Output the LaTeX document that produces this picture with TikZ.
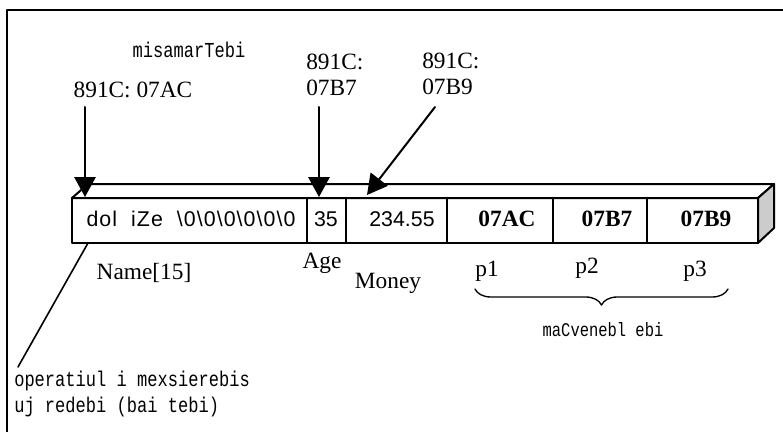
\documentclass[tikz,border=0pt]{standalone}
\usepackage{fontspec}
\setmainfont{Liberation Serif}
\newfontfamily\cellfont{Liberation Sans}
\newfontfamily\namefont[LetterSpace=5]{Liberation Sans}
\newfontfamily\geofont[FakeStretch=0.8]{Liberation Mono}
\usetikzlibrary{arrows.meta,decorations.pathreplacing}

\begin{document}
\begin{tikzpicture}[line cap=round,line join=round,>={Triangle[width=16pt,length=15pt]},x=0.75pt,y=-0.75pt,
  addr/.style={font=\fontsize{17.5}{19.5}\selectfont,inner sep=0pt,align=left},
  lbl/.style={font=\fontsize{17.5}{20}\selectfont,inner sep=0pt},
  cell/.style={font=\cellfont\fontsize{16}{18}\selectfont,inner sep=0pt},
  ptr/.style={font=\bfseries\fontsize{17.5}{20}\selectfont,inner sep=0pt},
  geo/.style={font=\geofont\fontsize{16}{18}\selectfont,inner sep=0pt,align=left}]
\useasboundingbox (0,0) rectangle (783,432);
% frame
\draw [line width=2pt] (7,432) -- (7,10) -- (783,10);
% the record in memory, drawn as a flat bar
\filldraw [line width=1.5pt,fill=white] (72,198) -- (88,184) -- (774,184) -- (758,198) -- cycle;
\filldraw [line width=1.5pt,fill=gray!40] (758,198) -- (774,184) -- (774,228) -- (758,243) -- cycle;
\draw [line width=1.5pt] (72,198) rectangle (758,243);
\foreach \x in {307,346,447,553,647}
  \draw [line width=1.2pt] (\x,198) -- (\x,243);
% field values
\node [cell,font=\namefont\fontsize{16}{18}\selectfont] (vName) at (191,219) {dol\ \ iZe\ \ \textbackslash0\textbackslash0\textbackslash0\textbackslash0\textbackslash0\textbackslash0};
\node [cell] (vAge) at (326,219) {35};
\node [cell] (vMoney) at (402,219) {234.55};
\node [ptr] (vP1) at (507,219) {07AC};
\node [ptr] (vP2) at (607,219) {07B7};
\node [ptr] (vP3) at (706,219) {07B9};
% field names
\node [lbl] (fName) at (144,273) {Name[15]};
\node [lbl] (fAge) at (322,263) {Age};
\node [lbl] (fMoney) at (388,283) {Money};
\node [lbl] (fP1) at (487,271) {p1};
\node [lbl] (fP2) at (587,268) {p2};
\node [lbl] (fP3) at (695,271) {p3};
\draw [line width=1pt,decorate,decoration={brace,amplitude=12pt}] (728,289) -- (475,289);
\node [geo,font=\geofont\fontsize{14.5}{17}\selectfont] (ptrs) at (603,330) {maCvenebl ebi};
% addresses
\node [geo] (addrs) at (189,50) {misamarTebi};
\node [addr] (aName) at (133,90) {891C: 07AC};
\node [addr,anchor=west] (aAge) at (306,75) {891C:\\07B7};
\node [addr,anchor=west] (aMoney) at (422,74) {891C:\\07B9};
\coordinate (sName) at (85,107);
\coordinate (tName) at (85,197);
\coordinate (sAge) at (319,107);
\coordinate (tAge) at (319,197);
\coordinate (sMoney) at (435,107);
\coordinate (tMoney) at (367,195);
\draw [->,line width=1.5pt] (sName) -- (tName);
\draw [->,line width=1.5pt] (sAge) -- (tAge);
\draw [->,line width=1.5pt] (sMoney) -- (tMoney);
% size of the record
\node [geo,font=\geofont\fontsize{16}{20}\selectfont,anchor=west] (size) at (14,394) {operatiul i mexsierebis\\uj redebi (bai tebi)};
\coordinate (cName) at (88,243);
\coordinate (cSize) at (18,367);
\draw [line width=1.2pt] (cName) -- (cSize);
\end{tikzpicture}
\end{document}
